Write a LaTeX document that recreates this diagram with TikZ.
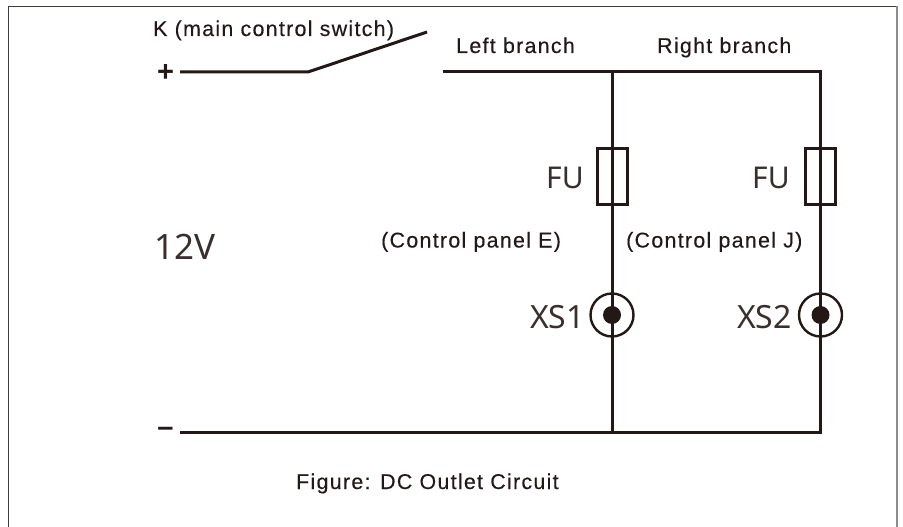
\documentclass[tikz,border=0pt]{standalone}
\usepackage{fontspec}
\setmainfont{Liberation Sans}
\newfontfamily\lightfont{Noto Sans}
\newfontfamily\labelfont[LetterSpace=6,FakeBold=0.25]{Liberation Sans}
\definecolor{ink}{HTML}{231815}
\tikzset{
  wire/.style={draw=ink,line width=3pt,line cap=butt,line join=miter},
  fusebox/.style={draw=ink,line width=3pt,minimum width=30pt,minimum height=56pt,inner sep=0pt},
  socket/.style={circle,draw=ink,line width=2.4pt,minimum size=43pt,inner sep=0pt},
  pin/.style={circle,fill=ink,minimum size=18pt,inner sep=0pt},
  lbl/.style={anchor=base west,inner sep=0pt,text=ink,font=\labelfont\fontsize{21.4}{24}\selectfont},
  big/.style={anchor=base west,inner sep=0pt,text=ink!90!white,font=\lightfont\fontsize{32}{36}\selectfont},
  sign/.style={anchor=center,inner sep=0pt,text=ink,font=\bfseries\fontsize{29}{30}\selectfont}
}
\begin{document}
\begin{tikzpicture}[x=1pt,y=-1pt]
\useasboundingbox (0,0) rectangle (903,527);
\fill[white] (0,0) rectangle (903,527);
% frame
\draw[draw=ink!85!white,line width=1.3pt] (8.5,527) -- (8.5,6.2) -- (896.5,6.2);
\draw[draw=black!45,line width=2.6pt] (896.8,5.6) -- (896.8,527);
% junctions and ends
\coordinate (plusEnd) at (180,72);
\coordinate (hinge) at (308,72);
\coordinate (blade) at (427,32);
\coordinate (contact) at (443,72);
\coordinate (topL) at (612,72);
\coordinate (topR) at (820.5,72);
\coordinate (minusEnd) at (180,432);
\coordinate (botL) at (612,432);
\coordinate (botR) at (820.5,432);
% components
\node[fusebox] (fuseL) at (612,176) {};
\node[fusebox] (fuseR) at (820.5,176) {};
\node[socket] (xsL) at (612,315) {};
\node[socket] (xsR) at (820.5,315) {};
\node[pin] (pinL) at (xsL.center) {};
\node[pin] (pinR) at (xsR.center) {};
% wires
\draw[wire] (plusEnd) -- (hinge) -- (blade);
\draw[wire] (contact) -- (topL) -- (topR) -- (botR) -- (botL) -- (minusEnd);
\draw[wire] (topL) -- (botL);
% labels
\node[lbl] (k) at (153,36) {K (main control switch)};
\node[lbl] (lb) at (456,53) {Left branch};
\node[lbl] (rb) at (657,53) {Right branch};
\node[lbl] (cpe) at (381,247.5) {(Control panel E)};
\node[lbl] (cpj) at (626,247.5) {(Control panel J)};
\node[lbl] (cap) at (296,489) {Figure: DC Outlet Circuit};
\node[big,font=\lightfont\fontsize{35}{38}\selectfont] (v) at (154,259) {12V};
\node[big,font=\lightfont\fontsize{30}{36}\selectfont] (fuL) at (546,188.5) {FU};
\node[big,font=\lightfont\fontsize{30}{36}\selectfont] (fuR) at (752,188.5) {FU};
\node[big] (xl) at (530,328) {XS1};
\node[big] (xr) at (737,328) {XS2};
\node[sign] (plus) at (165.5,73) {+};
\node[sign] (minus) at (165.5,432) {–};
\end{tikzpicture}
\end{document}
